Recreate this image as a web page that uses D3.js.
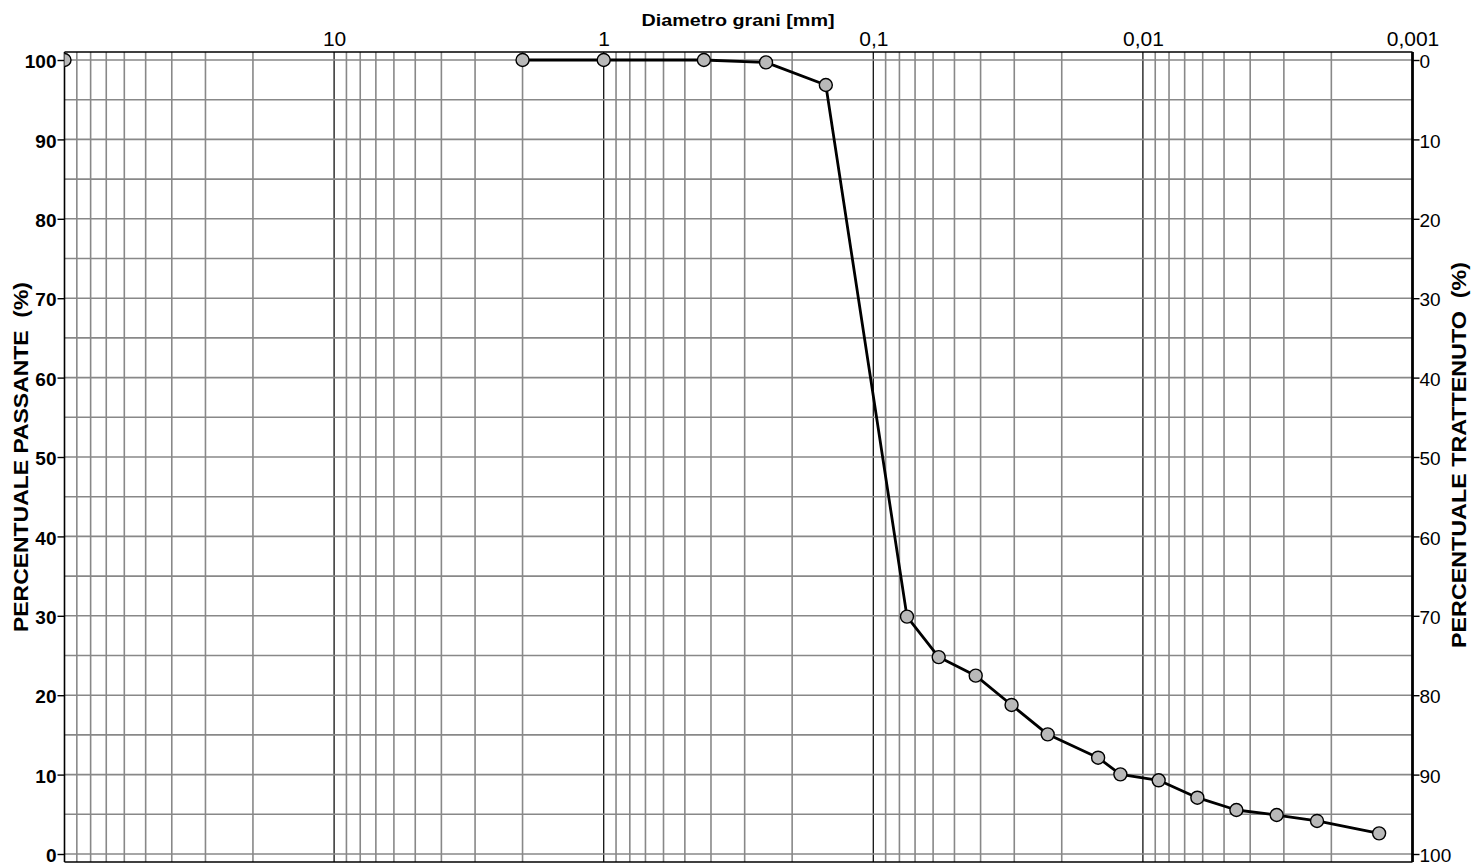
<!DOCTYPE html>
<html>
<head>
<meta charset="utf-8">
<script src="https://cdn.jsdelivr.net/npm/d3@7"></script>
<style>
  body { margin: 0; background: #fff; }
  svg { display: block; font-family: Arial, "Liberation Sans", sans-serif; }
</style>
</head>
<body>
<svg id="chart"></svg>
<script>
// curva granulometrica: diametro (mm) / percentuale passante
const diametri = [2, 1, 0.425, 0.25, 0.15, 0.075, 0.0572, 0.0417, 0.0307, 0.02255,
                  0.01466, 0.01212, 0.00874, 0.00628, 0.0045, 0.00319, 0.00226, 0.00133];
const passante = [100, 100, 100, 99.7, 96.85, 29.9, 24.8, 22.46, 18.77, 15.07,
                  12.13, 10.03, 9.28, 7.09, 5.54, 4.91, 4.16, 2.6];
// punto isolato sul bordo sinistro
const diamIniziale = [100];
const passIniziale = [100];

const decadi = [10, 1, 0.1, 0.01, 0.001];
const tickPassante = [0, 10, 20, 30, 40, 50, 60, 70, 80, 90, 100];
const tickTrattenuto = [0, 10, 20, 30, 40, 50, 60, 70, 80, 90, 100];

let w = 1471;
let h = 863;
let xLeft = 64.5;
let xRight = 1412.5;

let svg = d3.select('#chart').attr('width', w).attr('height', h);

let xSc = d3.scaleLog().domain([100, 0.001]).range([xLeft, xRight]);
let ySc = d3.scaleLinear().domain([0, 100]).range([854, 60]);
let yRSc = d3.scaleLinear().domain([100, 0]).range([854, 60]);

let yTop = ySc(101);
let yBottom = ySc(-1);

svg.append('defs').append('clipPath').attr('id', 'clip')
   .append('rect')
   .attr('x', xLeft).attr('y', yTop)
   .attr('width', xRight - xLeft).attr('height', yBottom - yTop);

// griglia verticale (1..9 per decade)
let vLines = [];
for (let k = -3; k <= 1; k++) {
  for (let m = 1; m <= 9; m++) vLines.push({ v: m * Math.pow(10, k), major: m === 1 });
}
svg.append('g').selectAll('line')
   .data(vLines.filter(d => d.v > 0.001 && d.v < 100))
   .enter().append('line')
   .attr('x1', d => xSc(d.v)).attr('x2', d => xSc(d.v))
   .attr('y1', yTop).attr('y2', yBottom)
   .attr('stroke', d => d.major ? '#111' : '#888')
   .attr('stroke-width', d => d.major ? 1.3 : 1.6);

// griglia orizzontale ogni 5%
svg.append('g').selectAll('line')
   .data(d3.range(0, 101, 5))
   .enter().append('line')
   .attr('x1', xLeft).attr('x2', xRight)
   .attr('y1', d => ySc(d)).attr('y2', d => ySc(d))
   .attr('stroke', '#888')
   .attr('stroke-width', 1.6);

// cornice
svg.append('line').attr('x1', xLeft).attr('x2', xLeft).attr('y1', yTop).attr('y2', yBottom)
   .attr('stroke', '#000').attr('stroke-width', 1.6);
svg.append('line').attr('x1', xLeft).attr('x2', xRight).attr('y1', yTop).attr('y2', yTop)
   .attr('stroke', '#000').attr('stroke-width', 1.6);
svg.append('line').attr('x1', xLeft).attr('x2', xRight).attr('y1', yBottom).attr('y2', yBottom)
   .attr('stroke', '#000').attr('stroke-width', 1.6);
svg.append('line').attr('x1', xRight).attr('x2', xRight).attr('y1', yTop).attr('y2', yBottom)
   .attr('stroke', '#000').attr('stroke-width', 2.8);

// asse sinistro
let yAxis = d3.axisLeft(ySc).tickValues(tickPassante).tickSize(7).tickPadding(1);
let gy = svg.append('g').attr('transform', 'translate(' + xLeft + ',0)').call(yAxis);
gy.select('.domain').remove();
gy.selectAll('.tick line').attr('stroke', '#000').attr('stroke-width', 1.4);
gy.selectAll('.tick text').attr('font-size', 19).attr('font-weight', 'bold')
  .attr('fill', '#000').attr('dy', '0.4em').attr('font-family', 'Arial, "Liberation Sans", sans-serif');

// asse destro
let yRAxis = d3.axisRight(yRSc).tickValues(tickTrattenuto).tickSize(7).tickPadding(0);
let gyr = svg.append('g').attr('transform', 'translate(' + xRight + ',0)').call(yRAxis);
gyr.select('.domain').remove();
gyr.selectAll('.tick line').attr('stroke', '#000').attr('stroke-width', 1.4);
gyr.selectAll('.tick text').attr('font-size', 19)
   .attr('fill', '#000').attr('dy', '0.4em').attr('font-family', 'Arial, "Liberation Sans", sans-serif');

// asse superiore
let xAxis = d3.axisTop(xSc).tickValues(decadi).tickSize(0).tickPadding(6)
              .tickFormat(d => String(d).replace('.', ','));
let gx = svg.append('g').attr('transform', 'translate(0,' + yTop + ')').call(xAxis);
gx.select('.domain').remove();
gx.selectAll('.tick text').attr('font-size', 21).attr('fill', '#000')
  .attr('font-family', 'Arial, "Liberation Sans", sans-serif');

// titoli
svg.append('text').attr('x', 738).attr('y', 26).attr('text-anchor', 'middle')
   .attr('font-size', 17).attr('font-weight', 'bold')
   .attr('textLength', 193).attr('lengthAdjust', 'spacingAndGlyphs')
   .text('Diametro grani [mm]');

svg.append('text').attr('transform', 'translate(28,457) rotate(-90)')
   .attr('text-anchor', 'middle').attr('font-size', 20).attr('font-weight', 'bold')
   .attr('textLength', 350).attr('lengthAdjust', 'spacingAndGlyphs')
   .attr('xml:space', 'preserve')
   .text('PERCENTUALE PASSANTE  (%)');

svg.append('text').attr('transform', 'translate(1466,455) rotate(-90)')
   .attr('text-anchor', 'middle').attr('font-size', 20).attr('font-weight', 'bold')
   .attr('textLength', 386).attr('lengthAdjust', 'spacingAndGlyphs')
   .attr('xml:space', 'preserve')
   .text('PERCENTUALE TRATTENUTO  (%)');

// curva
let punti = diametri.map((d, i) => ({ d: d, p: passante[i] }));
let linea = d3.line().x(item => xSc(item.d)).y(item => ySc(item.p));

let plot = svg.append('g').attr('clip-path', 'url(#clip)');
plot.append('path').datum(punti)
    .attr('d', linea)
    .attr('fill', 'none')
    .attr('stroke', '#000')
    .attr('stroke-width', 2.8)
    .attr('stroke-linejoin', 'round');

let tuttiPunti = diamIniziale.map((d, i) => ({ d: d, p: passIniziale[i] })).concat(punti);
plot.selectAll('circle')
    .data(tuttiPunti)
    .enter().append('circle')
    .attr('cx', item => xSc(item.d))
    .attr('cy', item => ySc(item.p))
    .attr('r', 6.5)
    .attr('fill', '#b9b9b9')
    .attr('stroke', '#000')
    .attr('stroke-width', 1.4);
</script>
</body>
</html>
